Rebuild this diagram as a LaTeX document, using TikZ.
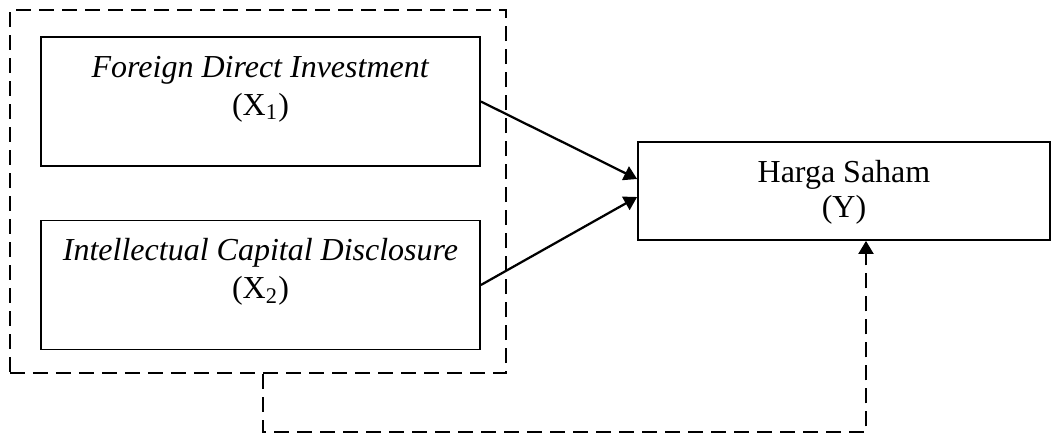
\documentclass[tikz,border=0pt]{standalone}
\usepackage{fontspec}
\setmainfont{Liberation Serif}
\usetikzlibrary{arrows.meta}

\begin{document}
\begin{tikzpicture}[x=0.4pt, y=-0.4pt]
    % Define styles
    \tikzstyle{varbox} = [rectangle, draw, line width=0.7pt, minimum width=175.6pt, minimum height=51.6pt, inner sep=0pt, align=center, text height=31.2pt, text depth=20.4pt, font={\fontsize{12.8}{15.2}\selectfont}]
    \tikzstyle{depbox} = [rectangle, draw, line width=0.7pt, minimum width=164.8pt, minimum height=39.2pt, inner sep=0pt, align=center, text height=30pt, text depth=9.2pt, font={\fontsize{12.8}{14}\selectfont}]
    \tikzstyle{groupbox} = [rectangle, draw, line width=1.1pt, dash pattern=on 6pt off 3.2pt, minimum width=198.4pt, minimum height=145.2pt, inner sep=0pt]
    \tikzstyle{arrow} = [line width=0.9pt, -{Triangle[length=5.2pt, width=6pt]}]
    \tikzstyle{dasharrow} = [arrow, line width=0.8pt, dash pattern=on 6pt off 3.2pt]

    \useasboundingbox (0,0) rectangle (1062,435);

    % Independent variables
    \node [groupbox] (group) at (258,191.5) {};
    \node [varbox] (x1) at (260.5,101.5) {\textit{Foreign Direct Investment}\\(X\textsubscript{1})};
    \node [varbox] (x2) at (260.5,285) {\textit{Intellectual Capital Disclosure}\\(X\textsubscript{2})};

    % Dependent variable
    \node [depbox] (y) at (844,191) {Harga Saham\\(Y)};

    % Arrows
    \draw [arrow] (x1.east) -- ([yshift=4.8pt]y.west);
    \draw [arrow] (x2.east) -- ([yshift=-2.4pt]y.west);
    \draw [dasharrow] ([xshift=2pt]group.south) -- ++(0,58) -| ([xshift=8.8pt]y.south);
\end{tikzpicture}
\end{document}
